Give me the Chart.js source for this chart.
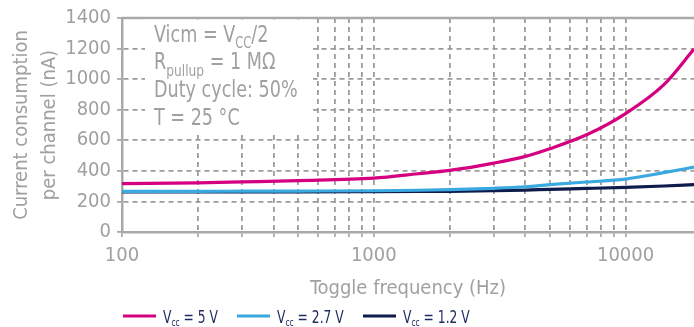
<!DOCTYPE html>
<html>
<head>
<meta charset="utf-8">
<script src="https://cdn.jsdelivr.net/npm/chart.js@4"></script>
<style>
  html, body { margin: 0; padding: 0; background: #fff; }
  #wrap { width: 694px; height: 327px; }
</style>
</head>
<body>
<div id="wrap"><canvas id="grafico" width="694" height="327"></canvas></div>
<script>
// Dados
const frequencias = [100, 200, 300, 500, 1000, 1500, 2000, 3000, 4000, 5000, 7000, 10000, 14200, 18700];
const vcc5 = [316, 322, 328, 336, 352, 381, 403, 451, 495, 545, 636, 775, 964, 1197];
const vcc27 = [266, 266, 267, 268, 270, 273, 277, 286, 296, 310, 327, 346, 388, 424];
const vcc12 = [262, 262, 263, 263, 264, 265, 266, 270, 274, 279, 285, 292, 301, 310];
const tensoes = ['5 V', '2.7 V', '1.2 V'];
const cores = ['#d4007f', '#3aa9e0', '#0e1b4b'];

const ticksX = [100, 200, 300, 400, 500, 600, 700, 800, 900, 1000,
  2000, 3000, 4000, 5000, 6000, 7000, 8000, 9000, 10000];
const rotulosX = { 100: '100', 1000: '1000', 10000: '10000' };

const fonte = "'DejaVu Sans Condensed', 'Liberation Sans', sans-serif";
const cinza = '#a0a0a0';
const cinzaEixo = '#a9a9a9';

const series = [vcc5, vcc27, vcc12];

const pontos = serie => serie.map((v, i) => ({ x: frequencias[i], y: v }));

// escreve partes de texto (com subscrito) comprimidas na horizontal
function textoComprimido(ctx, partes, x, y, tam, tamSub, desce, escala) {
  ctx.save();
  ctx.translate(x, y);
  ctx.scale(escala, 1);
  let px = 0;
  partes.forEach(p => {
    ctx.font = (p.sub ? tamSub : tam) + 'px ' + fonte;
    ctx.fillText(p.t, px, p.sub ? desce : 0);
    px += ctx.measureText(p.t).width;
  });
  ctx.restore();
  return px * escala;
}

// Caixa de texto com as condições + borda superior + legenda
const extras = {
  id: 'extras',
  beforeDatasetsDraw(chart) {
    const ctx = chart.ctx;
    const area = chart.chartArea;
    ctx.save();
    // borda superior
    ctx.strokeStyle = cinzaEixo;
    ctx.lineWidth = 2.5;
    ctx.beginPath();
    ctx.moveTo(area.left, area.top);
    ctx.lineTo(area.right, area.top);
    ctx.stroke();
    // fundo branco da caixa
    ctx.fillStyle = '#fff';
    ctx.fillRect(145, area.top + 1.5, 168, 133 - area.top - 1.5);

    ctx.fillStyle = cinza;
    ctx.textBaseline = 'alphabetic';
    ctx.textAlign = 'left';
    textoComprimido(ctx, [{ t: 'Vicm = V' }, { t: 'CC', sub: true }, { t: '/2' }], 154, 42, 23, 15, 6, 0.85);
    textoComprimido(ctx, [{ t: 'R' }, { t: 'pullup', sub: true }, { t: ' = 1 MΩ' }], 154, 69, 23, 16, 7, 0.85);
    textoComprimido(ctx, [{ t: 'Duty cycle: 50%' }], 154, 97, 23, 15, 6, 0.85);
    textoComprimido(ctx, [{ t: 'T = 25 °C' }], 154, 125, 23, 15, 6, 0.85);
    ctx.restore();
  },
  afterDraw(chart) {
    const ctx = chart.ctx;
    ctx.save();
    const inicios = [123, 237, 363];
    const y = 316;
    chart.data.datasets.forEach((ds, i) => {
      const x = inicios[i];
      ctx.strokeStyle = ds.borderColor;
      ctx.lineWidth = 3;
      ctx.beginPath();
      ctx.moveTo(x, y);
      ctx.lineTo(x + 33, y);
      ctx.stroke();
      ctx.fillStyle = '#1d2a5c';
      ctx.textBaseline = 'alphabetic';
      textoComprimido(ctx, [{ t: 'V' }, { t: 'cc', sub: true }, { t: ' = ' + tensoes[i] }],
        x + 40, 322.5, 18, 11, 3, 0.76);
    });
    ctx.restore();
  }
};

new Chart(document.getElementById('grafico'), {
  type: 'line',
  data: {
    datasets: series.map((s, i) => ({
      label: 'Vcc = ' + tensoes[i],
      data: pontos(s),
      borderColor: cores[i],
      borderWidth: 3.2,
      pointRadius: 0,
      cubicInterpolationMode: 'monotone',
      fill: false
    }))
  },
  options: {
    responsive: false,
    animation: false,
    layout: { padding: { top: 18, right: 0, left: 0, bottom: 0 } },
    plugins: { legend: { display: false }, tooltip: { enabled: false } },
    scales: {
      x: {
        type: 'logarithmic',
        min: 100,
        max: 18700,
        afterBuildTicks: scale => { scale.ticks = ticksX.map(v => ({ value: v })); },
        afterFit: scale => { scale.height = 95; },
        ticks: {
          autoSkip: false,
          maxRotation: 0,
          padding: 7,
          color: cinza,
          font: { family: fonte, size: 20 },
          callback: v => rotulosX[v] || ''
        },
        grid: {
          color: c => (c.tick && c.tick.value === 100 ? 'rgba(0,0,0,0)' : '#9c9c9c'),
          lineWidth: 1.8,
          tickLength: 5,
          tickColor: cinzaEixo,
          tickWidth: 1.8
        },
        border: { color: cinzaEixo, width: 2.5, dash: [5, 4] },
        title: {
          display: true,
          text: 'Toggle frequency (Hz)',
          color: cinza,
          font: { family: fonte, size: 20 },
          padding: { top: 0, bottom: 26 }
        }
      },
      y: {
        min: 0,
        max: 1400,
        afterFit: scale => { scale.width = 122; },
        ticks: {
          stepSize: 200,
          autoSkip: false,
          padding: 6,
          color: cinza,
          font: { family: fonte, size: 20 },
          callback: v => String(v)
        },
        grid: {
          color: c => (c.tick && (c.tick.value === 0 || c.tick.value === 1400) ? 'rgba(0,0,0,0)' : '#9c9c9c'),
          lineWidth: 1.8,
          tickLength: 5,
          tickColor: cinzaEixo,
          tickWidth: 1.8
        },
        border: { color: cinzaEixo, width: 2.5, dash: [5, 4] },
        title: {
          display: true,
          text: ['Current consumption', 'per channel (nA)'],
          color: cinza,
          font: { family: fonte, size: 20, lineHeight: 1.4 },
          padding: { top: 8, bottom: 0 }
        }
      }
    }
  },
  plugins: [extras]
});
</script>
</body>
</html>
